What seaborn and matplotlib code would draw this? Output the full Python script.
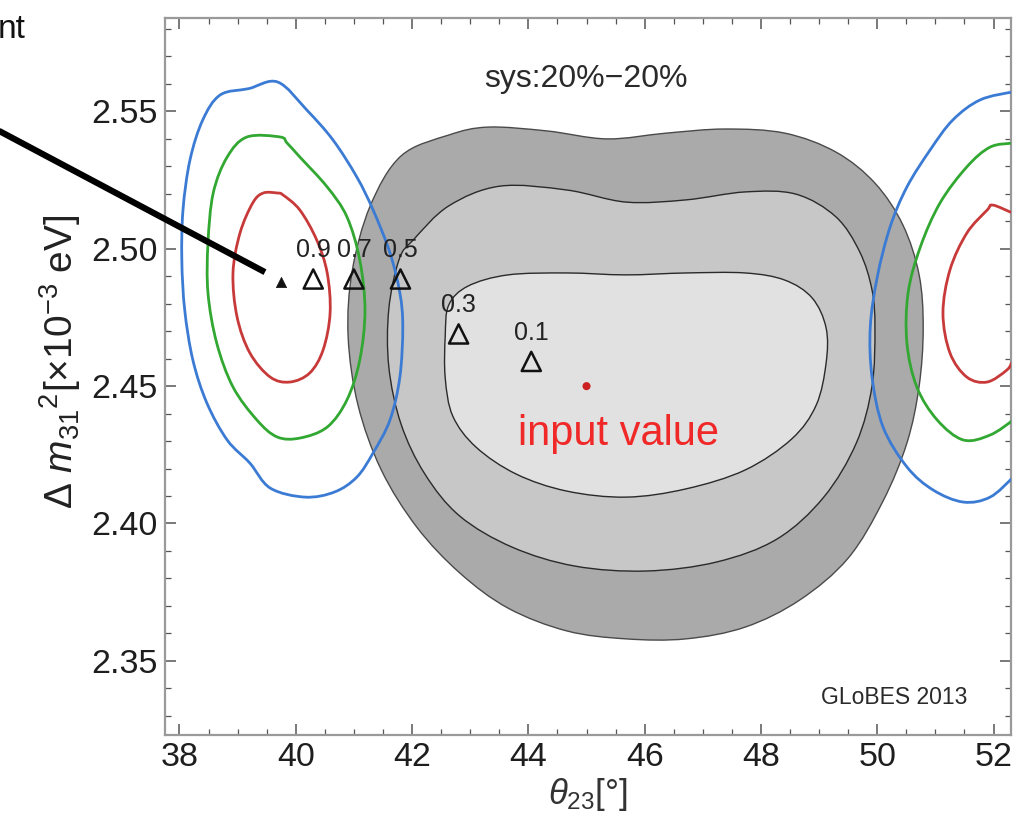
import matplotlib
matplotlib.use("Agg")
import matplotlib.pyplot as plt
from matplotlib.path import Path
from matplotlib.patches import PathPatch
import seaborn as sns

# ---- allowed regions (theta23 in degrees, dm31^2 in 1e-3 eV^2) ----
outer_th = [41.81, 42.63, 43.31, 44.32, 45.35, 46.37, 47.38, 48.41, 49.29, 49.96,
            50.44, 50.72, 50.79, 50.72, 50.51, 50.10, 49.50, 48.67, 47.73, 46.71,
            45.68, 44.66, 43.65, 42.82, 42.08, 41.47, 41.07, 40.90, 40.97, 41.28]
outer_dm = [2.5338, 2.5414, 2.5443, 2.5429, 2.5400, 2.5421, 2.5436, 2.5421, 2.5352, 2.5239,
            2.5087, 2.4905, 2.4712, 2.4500, 2.4293, 2.4082, 2.3874, 2.3722, 2.3623, 2.3580,
            2.3580, 2.3609, 2.3692, 2.3820, 2.3987, 2.4195, 2.4431, 2.4682, 2.4919, 2.5156]

middle_th = [42.02, 42.63, 43.51, 44.66, 45.68, 46.71, 47.73, 48.60, 49.29, 49.70,
             49.91, 49.96, 49.91, 49.64, 49.08, 48.28, 47.24, 46.02, 44.80, 43.72,
             42.82, 42.22, 41.81, 41.60, 41.60, 41.78]
middle_dm = [2.5032, 2.5156, 2.5228, 2.5214, 2.5170, 2.5178, 2.5207, 2.5199, 2.5116, 2.4988,
             2.4850, 2.4712, 2.4500, 2.4293, 2.4096, 2.3944, 2.3860, 2.3827, 2.3845, 2.3914,
             2.4027, 2.4180, 2.4362, 2.4570, 2.4781, 2.4963]

inner_th = [42.63, 42.96, 43.65, 44.66, 45.68, 46.71, 47.73, 48.41, 48.88, 49.12,
            49.12, 48.95, 48.53, 47.73, 46.71, 45.68, 44.66, 43.79, 43.10, 42.70,
            42.57, 42.57]
inner_dm = [2.4795, 2.4864, 2.4905, 2.4912, 2.4905, 2.4912, 2.4912, 2.4886, 2.4821, 2.4712,
            2.4584, 2.4431, 2.4308, 2.4195, 2.4126, 2.4096, 2.4118, 2.4180, 2.4278, 2.4391,
            2.4530, 2.4682]

# ---- wrong-octant contours (left island, closed) ----
blue_l_th = [39.69, 40.19, 40.64, 41.05, 41.33, 41.62, 41.79, 41.84, 41.79, 41.62, 41.33,
             41.05, 40.67, 40.16, 39.56, 39.21, 38.82, 38.47, 38.23, 38.09, 38.04, 38.06,
             38.18, 38.40, 38.70, 39.19]
blue_l_dm = [2.5607, 2.5505, 2.5396, 2.5261, 2.5141, 2.4985, 2.4839, 2.4715, 2.4533, 2.4377,
             2.4257, 2.4169, 2.4115, 2.4096, 2.4129, 2.4220, 2.4304, 2.4439, 2.4595, 2.4777,
             2.4959, 2.5141, 2.5323, 2.5469, 2.5560, 2.5583]

green_l_th = [39.16, 39.73, 39.85, 40.07, 40.54, 40.88, 41.10, 41.19, 41.10, 40.88, 40.54,
              40.07, 39.68, 39.33, 38.92, 38.64, 38.49, 38.49, 38.58, 38.82]
green_l_dm = [2.5407, 2.5407, 2.5385, 2.5334, 2.5225, 2.5116, 2.4959, 2.4777, 2.4595, 2.4450,
              2.4351, 2.4311, 2.4315, 2.4377, 2.4497, 2.4657, 2.4839, 2.5021, 2.5203, 2.5334]

red_l_th = [39.44, 39.68, 39.78, 40.07, 40.36, 40.54, 40.59, 40.47, 40.24, 39.90, 39.56,
            39.21, 38.99, 38.92, 39.04, 39.26]
red_l_dm = [2.5203, 2.5203, 2.5196, 2.5141, 2.5032, 2.4912, 2.4766, 2.4632, 2.4548, 2.4515,
            2.4533, 2.4621, 2.4752, 2.4912, 2.5057, 2.5167]

# ---- right island (continues past the plotted range, open) ----
blue_r_th = [52.54, 52.34, 51.77, 51.30, 50.91, 50.51, 50.22, 50.00, 49.88, 49.91, 50.10,
             50.51, 50.96, 51.48, 51.94, 52.34, 52.54]
blue_r_dm = [2.5571, 2.5571, 2.5542, 2.5469, 2.5360, 2.5225, 2.5079, 2.4897, 2.4715, 2.4533,
             2.4351, 2.4206, 2.4122, 2.4078, 2.4096, 2.4169, 2.4213]

green_r_th = [52.54, 52.34, 51.94, 51.54, 51.08, 50.74, 50.53, 50.51, 50.68, 51.03, 51.48,
              51.94, 52.34, 52.54]
green_r_dm = [2.5389, 2.5385, 2.5370, 2.5298, 2.5167, 2.5006, 2.4839, 2.4657, 2.4497, 2.4377,
              2.4304, 2.4322, 2.4377, 2.4413]

red_r_th = [52.54, 52.34, 51.99, 51.89, 51.54, 51.25, 51.13, 51.25, 51.54, 51.89, 52.23,
            52.34, 52.54]
red_r_dm = [2.5123, 2.5130, 2.5159, 2.5141, 2.5057, 2.4923, 2.4766, 2.4621, 2.4533, 2.4515,
            2.4559, 2.4595, 2.4650]

# ---- best-fit points for different systematics weights ----
fit_th = [40.30, 41.00, 41.80, 42.80, 44.05]
fit_dm = [2.489, 2.489, 2.489, 2.469, 2.459]
fit_labels = ["0.9", "0.7", "0.5", "0.3", "0.1"]

wrong_th, wrong_dm = [39.75], [2.488]
true_th, true_dm = 45.0, 2.45

# pointer line coming in from the left margin
pointer_th = [34.80, 39.47]
pointer_dm = [2.5440, 2.4915]

x_ticks = [38, 40, 42, 44, 46, 48, 50, 52]
y_ticks = [2.35, 2.40, 2.45, 2.50, 2.55]


def smooth_outline(xs, ys, closed=True):
    """Catmull-Rom curve through the given vertices, as a cubic Bezier path."""
    pts = list(zip(xs, ys))
    n = len(pts)

    def at(i):
        if closed:
            return pts[i % n]
        return pts[min(max(i, 0), n - 1)]

    verts = [pts[0]]
    codes = [Path.MOVETO]
    last = n if closed else n - 1
    for i in range(last):
        p0, p1, p2, p3 = at(i - 1), at(i), at(i + 1), at(i + 2)
        c1 = (p1[0] + (p2[0] - p0[0]) / 6, p1[1] + (p2[1] - p0[1]) / 6)
        c2 = (p2[0] - (p3[0] - p1[0]) / 6, p2[1] - (p3[1] - p1[1]) / 6)
        verts += [c1, c2, p2]
        codes += [Path.CURVE4] * 3
    return Path(verts, codes)


sns.set_theme(style="ticks")
plt.rcParams["font.family"] = ["Liberation Sans", "DejaVu Sans"]
plt.rcParams["mathtext.fontset"] = "custom"
plt.rcParams["mathtext.rm"] = "Liberation Sans"
plt.rcParams["mathtext.it"] = "Liberation Sans:italic"
plt.rcParams["mathtext.bf"] = "Liberation Sans:bold"

fig = plt.figure(figsize=(10.31, 8.31), dpi=100)
ax = fig.add_axes([0.160, 0.1155, 0.8206, 0.8628])

# grey filled confidence regions
for th, dm, face, edge, z in [(outer_th, outer_dm, "#aaaaaa", "#4a4a4a", 1.0),
                              (middle_th, middle_dm, "#c7c7c7", "#2a2a2a", 1.1),
                              (inner_th, inner_dm, "#e1e1e1", "#2a2a2a", 1.2)]:
    ax.add_patch(PathPatch(smooth_outline(th, dm), facecolor=face, edgecolor=edge,
                           lw=1.0, zorder=z))

# coloured contours
contours = [
    (blue_l_th, blue_l_dm, "#3b7bd4", True), (green_l_th, green_l_dm, "#32a832", True),
    (red_l_th, red_l_dm, "#c83a3a", True), (blue_r_th, blue_r_dm, "#3b7bd4", False),
    (green_r_th, green_r_dm, "#32a832", False), (red_r_th, red_r_dm, "#c83a3a", False),
]
for th, dm, col, closed in contours:
    ax.add_patch(PathPatch(smooth_outline(th, dm, closed), facecolor="none",
                           edgecolor=col, lw=2.0, zorder=3))

# pointer line
ax.plot(pointer_th, pointer_dm, color="black", lw=4.5, solid_capstyle="butt",
        clip_on=False, zorder=5)

# markers
sns.scatterplot(x=fit_th, y=fit_dm, marker="^", s=190, facecolor="none",
                edgecolor="#111111", linewidth=1.8, ax=ax, zorder=6)
sns.scatterplot(x=wrong_th, y=wrong_dm, marker="^", s=55, color="#111111",
                edgecolor="#111111", linewidth=0.5, ax=ax, zorder=6)
sns.scatterplot(x=[true_th], y=[true_dm], marker="o", s=34, color="#cc2020",
                edgecolor="none", ax=ax, zorder=6)

for th, dm, lab in zip(fit_th, fit_dm, fit_labels):
    ax.annotate(lab, (th, dm), xytext=(0, 12), textcoords="offset points",
                ha="center", va="bottom", fontsize=18, color="#222222", zorder=7)

ax.annotate("input value", (true_th, true_dm), xytext=(23, -20), textcoords="offset points",
            ha="center", va="top", fontsize=30, color="#f02828", zorder=7)

ax.text(0.497, 0.915, "sys:20%\u221220%", transform=ax.transAxes, ha="center",
        va="center", fontsize=23, color="#2a2a2a")
ax.text(0.949, 0.053, "GLoBES 2013", transform=ax.transAxes, ha="right",
        va="center", fontsize=16.5, color="#2a2a2a")

fig.text(-0.002, 0.954, "nt", ha="left", va="baseline", fontsize=24, color="#111111")

ax.set_xlim(37.75, 52.3)
ax.set_ylim(2.323, 2.584)
ax.set_xticks(x_ticks)
ax.set_xticklabels([str(t) for t in x_ticks])
ax.set_yticks(y_ticks)
ax.set_yticklabels([f"{t:.2f}" for t in y_ticks])
ax.set_xticks([v / 2 for v in range(76, 105)], minor=True)
ax.set_yticks([v / 100 for v in range(233, 259)], minor=True)

ax.tick_params(which="both", direction="in", top=True, right=True, color="#555555",
               labelcolor="#1e1e1e")
ax.tick_params(which="major", length=8, width=1.1, labelsize=24.5, pad=5)
ax.tick_params(which="minor", length=4, width=0.9)
for sp in ax.spines.values():
    sp.set_color("#9a9a9a")
    sp.set_linewidth(1.6)

ax.set_xlabel(r"$\theta_{23}[\mathrm{\degree}]$", fontsize=25, color="#333333", labelpad=2)
ax.set_ylabel("")
fig.text(0.058, 0.565, r"$\Delta\ m_{31}{}^{2}[\times10^{-3}\ \mathrm{eV}]$", fontsize=28,
         color="#222222", rotation=90, ha="center", va="center")
ax.set_facecolor("white")

fig.savefig("out.png", dpi=100)
